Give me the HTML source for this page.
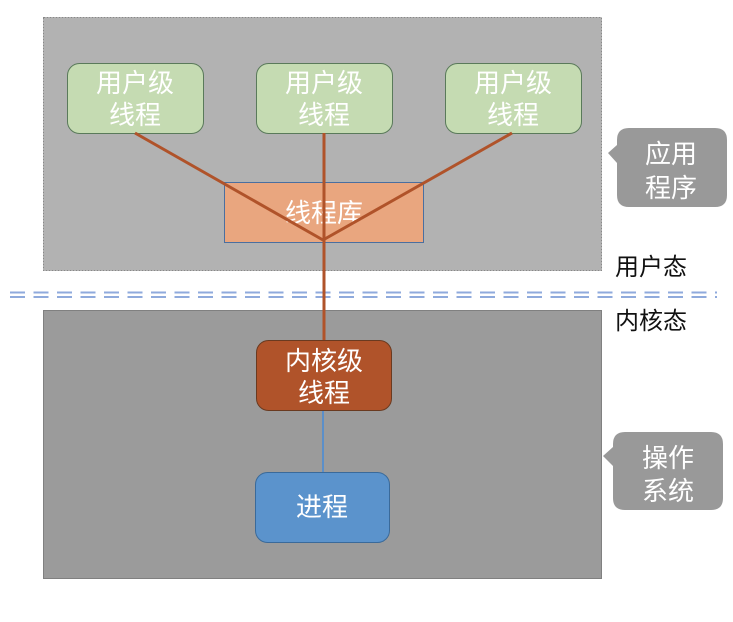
<!DOCTYPE html>
<html><head><meta charset="utf-8"><style>
body{margin:0;width:733px;height:617px;background:#fff;overflow:hidden}
svg text{font-family:"Liberation Sans","Noto Sans CJK SC",sans-serif}
</style></head><body>
<svg width="733" height="617" viewBox="0 0 733 617">
<rect x="43.5" y="17.5" width="558" height="253" fill="#b2b2b2" stroke="#888" stroke-dasharray="2,1"/>
<rect x="43.5" y="310.5" width="558" height="268" fill="#9b9b9b" stroke="#808080"/>
<g stroke="#8faadc" stroke-width="2" stroke-dasharray="15,8.5">
<line x1="10" y1="292.5" x2="717" y2="292.5"/>
<line x1="10" y1="297" x2="717" y2="297"/>
</g>
<g fill="#c5dbb2" stroke="#5a7a5a" stroke-width="1">
<rect x="67.5" y="63.5" width="136" height="70" rx="12"/>
<rect x="256.5" y="63.5" width="136" height="70" rx="12"/>
<rect x="445.5" y="63.5" width="136" height="70" rx="12"/>
</g>
<rect x="224.5" y="182.5" width="199" height="60" fill="#e9a67f" stroke="#4a6fa0"/>
<text x="324" y="222" font-size="26" fill="#fff" text-anchor="middle">线程库</text>
<g stroke="#b0532a" stroke-width="3" fill="none">
<line x1="135" y1="133" x2="323" y2="240"/>
<line x1="512" y1="133" x2="323" y2="240"/>
<line x1="324" y1="133" x2="324" y2="340"/>
</g>
<line x1="323" y1="410" x2="323" y2="472" stroke="#5b8fc9" stroke-width="2"/>
<rect x="256.5" y="340.5" width="135" height="70" rx="12" fill="#b0532a" stroke="#6a3a20"/>
<rect x="255.5" y="472.5" width="134" height="70" rx="12" fill="#5b93cc" stroke="#3a6a9a"/>
<g font-size="26" fill="#fff" text-anchor="middle">
<text x="135" y="92">用户级</text><text x="135" y="124">线程</text>
<text x="324" y="92">用户级</text><text x="324" y="124">线程</text>
<text x="513" y="92">用户级</text><text x="513" y="124">线程</text>
<text x="324" y="370">内核级</text><text x="324" y="402">线程</text>
<text x="322" y="516">进程</text>
</g>
<path d="M629,128 H715 Q727,128 727,140 V195 Q727,207 715,207 H629 Q617,207 617,195 V163 L608,153 L617,145 V140 Q617,128 629,128 Z" fill="#999"/>
<path d="M625,432 H711 Q723,432 723,444 V498 Q723,510 711,510 H625 Q613,510 613,498 V466 L603,456 L613,447 V444 Q613,432 625,432 Z" fill="#999"/>
<g font-size="26" fill="#fff" text-anchor="middle">
<text x="671" y="163">应用</text><text x="671" y="197">程序</text>
<text x="668" y="467">操作</text><text x="668" y="500">系统</text>
</g>
<g font-size="24" fill="#111">
<text x="615" y="275">用户态</text>
<text x="615" y="329">内核态</text>
</g>
</svg>
</body></html>
